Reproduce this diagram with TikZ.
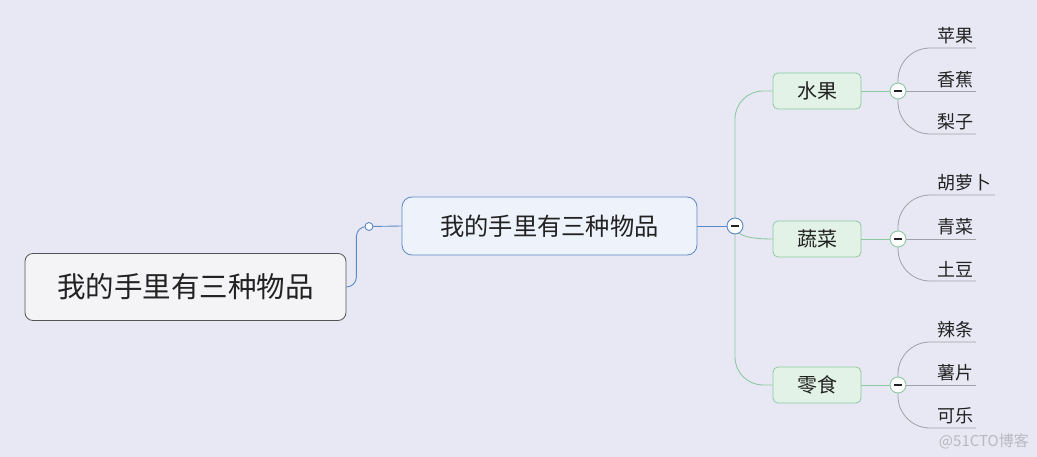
\documentclass[tikz,border=0pt]{standalone}
\usepackage{fontspec}
\setmainfont{Noto Sans CJK SC}
\definecolor{bg}{HTML}{E8E8F4}
\definecolor{rootfill}{HTML}{F4F4F6}
\definecolor{rootdraw}{HTML}{555555}
\definecolor{cenfill}{HTML}{EEF3FB}
\definecolor{blueline}{HTML}{5A8AC6}
\definecolor{greenline}{HTML}{8CC9A0}
\definecolor{brfill}{HTML}{E2F2E6}
\definecolor{leafline}{HTML}{A0A0A8}
\definecolor{txt}{HTML}{222222}
\definecolor{wm}{HTML}{B8B8C0}
\begin{document}
\begin{tikzpicture}[x=1pt,y=-1pt,
  rootbox/.style={draw=rootdraw,fill=rootfill,rounded corners=8pt,line width=0.8pt,minimum width=321pt,minimum height=67pt,inner sep=0pt,text=txt,font=\fontsize{28.5}{32}\selectfont},
  cenbox/.style={draw=blueline,fill=cenfill,rounded corners=10pt,line width=0.8pt,minimum width=295pt,minimum height=58pt,inner sep=0pt,text=txt,font=\fontsize{24.3}{28}\selectfont},
  brbox/.style={draw=greenline,fill=brfill,rounded corners=5pt,line width=0.8pt,minimum width=88pt,minimum height=36pt,inner sep=0pt,text=txt,font=\fontsize{20}{23}\selectfont},
  leaftext/.style={anchor=west,inner sep=0pt,text=txt,font=\fontsize{18}{21}\selectfont},
  bline/.style={draw=blueline,line width=0.9pt},
  gline/.style={draw=greenline,line width=0.9pt},
  lline/.style={draw=leafline,line width=0.8pt},
  toggle/.style={circle,draw=#1,fill=white,line width=0.9pt,minimum size=16pt,inner sep=0pt,
    path picture={\draw[line width=1.6pt,txt] ([xshift=-4pt]path picture bounding box.center) -- ([xshift=4pt]path picture bounding box.center);}},
  smallc/.style={circle,draw=blueline,fill=white,line width=0.9pt,minimum size=8pt,inner sep=0pt}
]
\useasboundingbox[fill=bg] (0,0) rectangle (1037,457);

% nodes
\node[rootbox] (root) at (185.5,287) {我的手里有三种物品};
\node[cenbox] (cen) at (549.5,226) {我的手里有三种物品};
\node[brbox] (fruit) at (817,91) {水果};
\node[brbox] (veg) at (817,239) {蔬菜};
\node[brbox] (snack) at (817,385) {零食};

% leaf texts
\node[leaftext] (l1) at (937,36) {苹果};
\node[leaftext] (l2) at (937,80) {香蕉};
\node[leaftext] (l3) at (937,122) {梨子};
\node[leaftext] (l4) at (937,183) {胡萝卜};
\node[leaftext] (l5) at (937,227) {青菜};
\node[leaftext] (l6) at (937,269) {土豆};
\node[leaftext] (l7) at (937,330) {辣条};
\node[leaftext] (l8) at (937,373) {薯片};
\node[leaftext] (l9) at (937,416) {可乐};

% leaf line ends
\coordinate (e1) at (976,48);
\coordinate (e2) at (976,91);
\coordinate (e3) at (976,134);
\coordinate (e4) at (995,195);
\coordinate (e5) at (976,239);
\coordinate (e6) at (976,281);
\coordinate (e7) at (976,342);
\coordinate (e8) at (976,385);
\coordinate (e9) at (976,428);

% toggles (positions)
\coordinate (c0p) at (369,226.5);
\coordinate (c1p) at (735,226);
\coordinate (cfp) at (898,91);
\coordinate (cvp) at (898,239);
\coordinate (csp) at (898,385);

% connectors: root -> central
\draw[bline,rounded corners=10pt] (root.east) -- ++(10,0) |- (c0p);
\draw[bline] (c0p) -- (cen.west);
\draw[bline] (cen.east) -- (c1p);

% central -> branches
\draw[gline,rounded corners=28pt] (c1p) |- (fruit.west);
\draw[gline,rounded corners=28pt] (c1p) |- (snack.west);
\draw[gline] ([shift={(3,6)}]c1p) .. controls ([shift={(8,12)}]c1p) and (760,239) .. (veg.west);

% branches -> toggles
\draw[gline] (fruit.east) -- (cfp);
\draw[gline] (veg.east) -- (cvp);
\draw[gline] (snack.east) -- (csp);

% leaves
\foreach \c/\a/\b/\d in {cfp/e1/e2/e3, cvp/e4/e5/e6, csp/e7/e8/e9}{
  \draw[lline,rounded corners=32pt] (\c) |- (\a);
  \draw[lline] (\c) -- (\b);
  \draw[lline,rounded corners=32pt] (\c) |- (\d);
}

% toggle circles on top
\node[smallc] (c0) at (c0p) {};
\node[toggle=blueline] (c1) at (c1p) {};
\node[toggle=greenline] (cf) at (cfp) {};
\node[toggle=greenline] (cv) at (cvp) {};
\node[toggle=greenline] (cs) at (csp) {};

% watermark
\node[anchor=east,inner sep=0pt,text=wm,font=\fontsize{15}{18}\selectfont] (wm) at (1029,441) {@51CTO博客};
\end{tikzpicture}
\end{document}
